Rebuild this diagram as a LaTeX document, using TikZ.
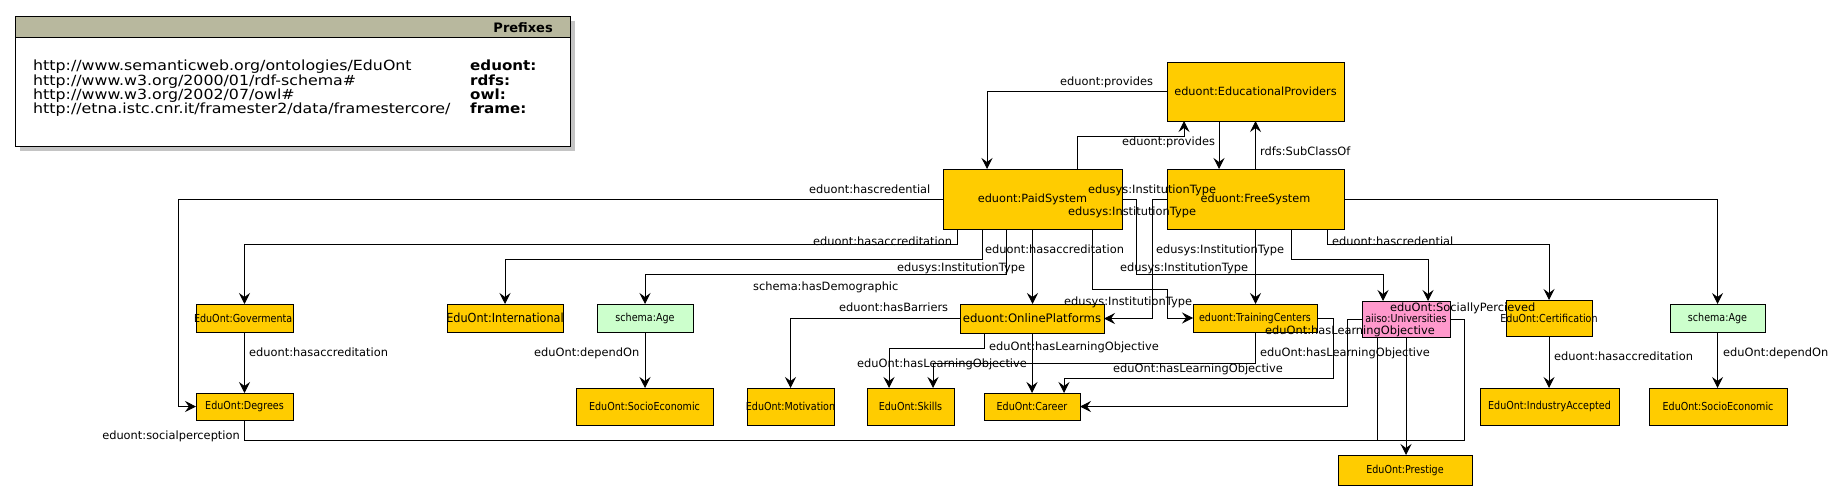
\documentclass[tikz,border=0pt]{standalone}
\usepackage{fontspec}
\setmainfont{DejaVu Sans}
\usepackage{graphicx}
\usetikzlibrary{arrows.meta}
\definecolor{ybox}{HTML}{FFCC00}
\definecolor{gbox}{HTML}{CCFFCC}
\definecolor{pbox}{HTML}{FF99CC}
\definecolor{hdr}{HTML}{B8B89E}
\definecolor{shd}{HTML}{C4C4C4}
\newcommand\lblf{\fontsize{11.4}{13}\selectfont}
\newcommand\bigt[1]{\makebox[0pt]{\fontsize{11.3}{13}\selectfont #1}}
\newcommand\opt[1]{\makebox[0pt]{\fontsize{11.7}{13}\selectfont #1}}
\newcommand\smallt[1]{\makebox[0pt]{\scalebox{0.87}[1]{\fontsize{11}{12}\selectfont #1}}}
\newcommand\midt[1]{\makebox[0pt]{\scalebox{0.9}[1]{\fontsize{12.5}{14}\selectfont #1}}}
\newcommand\pfx[1]{\scalebox{1.13}[1]{\fontsize{14}{16}\selectfont #1}}
\newcommand\pfb[1]{\scalebox{1.08}[1]{\fontsize{14}{16}\selectfont\bfseries #1}}
\tikzset{
  box/.style={draw, line width=0.9pt, fill=ybox, inner sep=0pt, outer sep=0pt},
  gbx/.style={box, fill=gbox},
  pbx/.style={box, fill=pbox},
  lab/.style={inner sep=0pt, anchor=base west, font=\lblf},
  edge/.style={line width=0.9pt, -{Stealth[length=11pt,width=11pt,inset=4pt]}},
  plain/.style={line width=0.9pt},
  ptxt/.style={inner sep=0pt, anchor=base west},
}
\begin{document}
\begin{tikzpicture}[x=1pt,y=-1pt]
\useasboundingbox (0,0) rectangle (1847,501);
% ---------- prefix box ----------
\fill[shd] (20,21) rectangle (575,151);
\draw[line width=0.9pt, fill=white] (15,16) rectangle (570,146);
\draw[line width=0.9pt, fill=hdr] (15,16) rectangle (570,37);
\node[inner sep=0pt, anchor=base east, font=\fontsize{13}{15}\selectfont\bfseries] (ptitle) at (553,32) {Prefixes};
\node[ptxt] (u1) at (33,70) {\pfx{http://www.semanticweb.org/ontologies/EduOnt}};
\node[ptxt] (u2) at (33,85) {\pfx{http://www.w3.org/2000/01/rdf-schema\#}};
\node[ptxt] (u3) at (33,99) {\pfx{http://www.w3.org/2002/07/owl\#}};
\node[ptxt] (u4) at (33,113) {\pfx{http://etna.istc.cnr.it/framester2/data/framestercore/}};
\node[ptxt] (p1) at (470,70) {\pfb{eduont:}};
\node[ptxt] (p2) at (470,85) {\pfb{rdfs:}};
\node[ptxt] (p3) at (470,99) {\pfb{owl:}};
\node[ptxt] (p4) at (470,113) {\pfb{frame:}};
% ---------- nodes ----------
\node[box, minimum width=177pt, minimum height=59pt] (EP) at (1255.5,91.5) {\bigt{eduont:EducationalProviders}};
\node[box, minimum width=179pt, minimum height=60pt] (PS) at (1032.5,199) {\bigt{eduont:PaidSystem}};
\node[box, minimum width=177pt, minimum height=60pt] (FS) at (1255.5,199) {\bigt{eduont:FreeSystem}};
\node[box, minimum width=144pt, minimum height=29pt] (OP) at (1032,318.5) {\opt{eduont:OnlinePlatforms}};
\node[box, minimum width=124pt, minimum height=28pt] (TC) at (1255,318) {\smallt{eduont:TrainingCenters}};
\node[pbx, minimum width=88pt, minimum height=36pt] (Univ) at (1406,319) {};
\node[box, minimum width=97pt, minimum height=28pt] (Gov) at (244.5,318) {\smallt{EduOnt:Govermental}};
\node[box, minimum width=116pt, minimum height=28pt] (Intl) at (505,318) {\midt{EduOnt:International}};
\node[gbx, minimum width=96pt, minimum height=28pt] (AgeL) at (645,318) {\smallt{schema:Age}};
\node[box, minimum width=86pt, minimum height=36pt] (Cert) at (1549,318) {\smallt{EduOnt:Certification}};
\node[gbx, minimum width=95pt, minimum height=28pt] (AgeR) at (1717.5,318) {\smallt{schema:Age}};
\node[box, minimum width=97pt, minimum height=27pt] (Deg) at (244.5,406.5) {\smallt{EduOnt:Degrees}};
\node[box, minimum width=137pt, minimum height=37pt] (SocL) at (644.5,406.5) {\smallt{EduOnt:SocioEconomic}};
\node[box, minimum width=87pt, minimum height=37pt] (Mot) at (790.5,406.5) {\smallt{EduOnt:Motivation}};
\node[box, minimum width=87pt, minimum height=37pt] (Sk) at (910.5,406.5) {\smallt{EduOnt:Skills}};
\node[box, minimum width=96pt, minimum height=27pt] (Car) at (1032,406.5) {\smallt{EduOnt:Career}};
\node[box, minimum width=139pt, minimum height=37pt] (Ind) at (1549.5,406.5) {\smallt{EduOnt:IndustryAccepted}};
\node[box, minimum width=138pt, minimum height=37pt] (SocR) at (1718,406.5) {\smallt{EduOnt:SocioEconomic}};
\node[box, minimum width=134pt, minimum height=30pt] (Pres) at (1405,470) {\smallt{EduOnt:Prestige}};
% ---------- connectors ----------
\draw[edge] (EP.west) -| ([xshift=44pt]PS.north west);
\draw[edge] ([xshift=134pt]PS.north west) -- ++(0,-33) -| ([xshift=17pt]EP.south west);
\draw[edge] ([xshift=52pt]EP.south west) -- ([xshift=52pt]FS.north west);
\draw[edge] (FS.north) -- (FS.north |- EP.south);
\draw[edge] (PS.west) -| ([xshift=-18pt]Deg.west) -- (Deg.west);
\draw[edge] ([xshift=14pt]PS.south west) -- ++(0,15) -| (Gov.north);
\draw[edge] ([xshift=39pt]PS.south west) -- ++(0,30) -| (Intl.north);
\draw[edge] ([xshift=63pt]PS.south west) -- ++(0,45) -| (AgeL.north);
\draw[edge] (PS.south) -- (PS.south |- OP.north);
\draw[edge] ([xshift=149pt]PS.south west) -- ++(0,60) -| ([xshift=-26pt]TC.west) -- (TC.west);
\draw[edge] (PS.east) -- ++(14,0) -- ++(0,75) -| ([xshift=21pt]Univ.north west);
\draw[edge] (FS.west) -- ++(-15,0) |- (OP.east);
\draw[edge] (FS.south) -- (FS.south |- TC.north);
\draw[edge] ([xshift=124pt]FS.south west) -- ++(0,30) -| ([xshift=66pt]Univ.north west);
\draw[edge] ([xshift=160pt]FS.south west) -- ++(0,15) -| (Cert.north);
\draw[edge] (FS.east) -| (AgeR.north);
\draw[edge] (Gov.south) -- (Deg.north);
\draw[edge] (AgeL.south) -- (AgeL.south |- SocL.north);
\draw[edge] (OP.west) -| (Mot.north);
\draw[edge] ([xshift=24pt]OP.south west) -- ++(0,15) -| ([xshift=22pt]Sk.north west);
\draw[edge] (OP.south) -- (Car.north);
\draw[edge] (TC.south) -- ++(0,31) -| ([xshift=66pt]Sk.north west);
\draw[edge] (TC.east) -- ++(16,0) -- ++(0,60) -| ([xshift=80pt]Car.north west);
\draw[edge] (Univ.west) -- ++(-15,0) |- (Car.east);
\draw[edge] (Univ.south) -- (Univ.south |- Pres.north);
\draw[plain] (Deg.south) -- ++(0,20) -| ([xshift=14pt]Univ.east) -- (Univ.east);
\draw[plain] ([xshift=15pt]Univ.south west) -- ++(0,103);
\draw[edge] (Cert.south) -- (Cert.south |- Ind.north);
\draw[edge] (AgeR.south) -- (AgeR.south |- SocR.north);
% ---------- Universities texts ----------
\node[inner sep=0pt] (ut) at (1406,318) {\smallt{aiiso:Universities}};
% ---------- labels ----------
\node[lab] (l1) at (1060,85) {eduont:provides};
\node[lab] (l2) at (1122,145) {eduont:provides};
\node[lab] (l3) at (1260,155) {rdfs:SubClassOf};
\node[lab] (l4) at (809,193) {eduont:hascredential};
\node[lab] (l5) at (1088,193) {edusys:InstitutionType};
\node[lab] (l6) at (1068,215) {edusys:InstitutionType};
\node[lab] (l7) at (813,245) {eduont:hasaccreditation};
\node[lab] (l8) at (985,253) {eduont:hasaccreditation};
\node[lab] (l9) at (897,271) {edusys:InstitutionType};
\node[lab] (l10) at (753,290) {schema:hasDemographic};
\node[lab] (l11) at (839,311) {eduont:hasBarriers};
\node[lab] (l12) at (1156,253) {edusys:InstitutionType};
\node[lab] (l13) at (1120,271) {edusys:InstitutionType};
\node[lab] (l14) at (1064,305) {edusys:InstitutionType};
\node[lab] (l15) at (1332,245) {eduont:hascredential};
\node[lab] (l16) at (989,350) {eduOnt:hasLearningObjective};
\node[lab] (l17) at (857,367) {eduOnt:hasLearningObjective};
\node[lab] (l18) at (1113,372) {eduOnt:hasLearningObjective};
\node[lab] (l19) at (1260,356) {eduOnt:hasLearningObjective};
\node[lab] (l20) at (1265,334) {eduOnt:hasLearningObjective};
\node[lab] (l21) at (1390,311) {eduOnt:SociallyPercieved};
\node[lab] (l22) at (249,356) {eduont:hasaccreditation};
\node[lab] (l23) at (534,356) {eduOnt:dependOn};
\node[lab, anchor=base east] (l24) at (240,439) {eduont:socialperception};
\node[lab] (l25) at (1554,360) {eduont:hasaccreditation};
\node[lab] (l26) at (1723,356) {eduOnt:dependOn};
\end{tikzpicture}
\end{document}
